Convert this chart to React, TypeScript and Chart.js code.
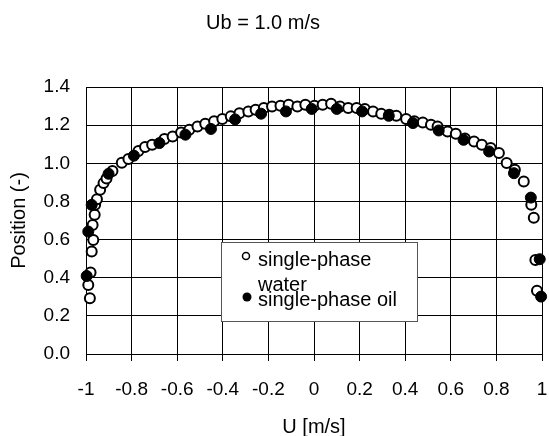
import React, { useEffect, useRef } from "react";
import { Chart, registerables } from "chart.js";

Chart.register(...registerables);

const TITLE = "Ub = 1.0 m/s";
const X_LABEL = "U [m/s]";
const Y_LABEL = "Position (-)";
const WATER_LABEL = ["single-phase", "water"];
const OIL_LABEL = "single-phase oil";

const xTicks = [-1, -0.8, -0.6, -0.4, -0.2, 0, 0.2, 0.4, 0.6, 0.8, 1];
const yTicks = [0, 0.2, 0.4, 0.6, 0.8, 1.0, 1.2, 1.4];

const waterU = [
  -0.983, -0.99, -0.98, -0.975, -0.968, -0.971, -0.962, -0.96, -0.952, -0.938,
  -0.923, -0.91, -0.884, -0.843, -0.814, -0.77, -0.741, -0.71, -0.656, -0.62,
  -0.583, -0.547, -0.511, -0.477, -0.438, -0.402, -0.365, -0.327, -0.288, -0.256,
  -0.22, -0.184, -0.147, -0.111, -0.073, -0.038, 0.002, 0.038, 0.075, 0.114,
  0.15, 0.187, 0.223, 0.259, 0.295, 0.33, 0.361, 0.404, 0.44, 0.477,
  0.513, 0.542, 0.586, 0.622, 0.662, 0.702, 0.736, 0.775, 0.811, 0.845,
  0.881, 0.92, 0.953, 0.964, 0.971, 0.978,
];
const waterPos = [
  0.292, 0.362, 0.427, 0.537, 0.598, 0.677, 0.73, 0.782, 0.812, 0.861,
  0.896, 0.92, 0.96, 1.003, 1.022, 1.064, 1.085, 1.097, 1.127, 1.141,
  1.162, 1.176, 1.193, 1.207, 1.22, 1.232, 1.246, 1.262, 1.272, 1.281,
  1.29, 1.298, 1.302, 1.307, 1.298, 1.307, 1.302, 1.307, 1.312, 1.298,
  1.29, 1.29, 1.285, 1.272, 1.26, 1.255, 1.249, 1.232, 1.22, 1.214,
  1.202, 1.193, 1.167, 1.155, 1.13, 1.114, 1.097, 1.08, 1.054, 1.001,
  0.966, 0.905, 0.782, 0.714, 0.493, 0.332,
];

const oilU = [
  -0.997, -0.99, -0.975, -0.901, -0.79, -0.678, -0.564, -0.452, -0.346, -0.232,
  -0.123, -0.01, 0.1, 0.211, 0.328, 0.434, 0.547, 0.656, 0.768, 0.877,
  0.951, 0.99, 0.996,
];
const oilPos = [
  0.409, 0.642, 0.782, 0.945, 1.04, 1.106, 1.15, 1.18, 1.23, 1.26,
  1.272, 1.285, 1.285, 1.272, 1.249, 1.211, 1.172, 1.123, 1.062, 0.948,
  0.82, 0.497, 0.301,
];

const FONT = '"Liberation Sans", Arial, sans-serif';

const fmtX = (v: number) => String(Number(v.toFixed(1)));
const fmtY = (v: number) => v.toFixed(1);

const decorPlugin = {
  id: "decor",
  afterDraw(chart: any) {
    const { ctx, chartArea: a } = chart;
    ctx.save();
    // title
    ctx.font = `20px ${FONT}`;
    ctx.fillStyle = "#000";
    ctx.textAlign = "center";
    ctx.textBaseline = "alphabetic";
    ctx.fillText(TITLE, 263, 29);

    // legend box
    const lx = a.left + 135;
    const ly = a.top + 155;
    const lw = 196;
    const lh = 79;
    ctx.fillStyle = "#fff";
    ctx.fillRect(lx, ly, lw, lh);
    ctx.strokeStyle = "#555";
    ctx.lineWidth = 1;
    ctx.strokeRect(lx + 0.5, ly + 0.5, lw, lh);

    // open marker
    ctx.beginPath();
    ctx.arc(lx + 25, ly + 14, 3.5, 0, Math.PI * 2);
    ctx.fillStyle = "#fff";
    ctx.fill();
    ctx.strokeStyle = "#000";
    ctx.lineWidth = 1.5;
    ctx.stroke();
    // filled marker
    ctx.beginPath();
    ctx.arc(lx + 26, ly + 55, 4.5, 0, Math.PI * 2);
    ctx.fillStyle = "#000";
    ctx.fill();

    ctx.fillStyle = "#000";
    ctx.textAlign = "left";
    ctx.textBaseline = "alphabetic";
    ctx.font = `20px ${FONT}`;
    ctx.fillText(WATER_LABEL[0], lx + 37, ly + 24);
    ctx.fillText(WATER_LABEL[1], lx + 37, ly + 49);
    ctx.fillText(OIL_LABEL, lx + 37, ly + 64);
    ctx.restore();
  },
};

export default function App() {
  const ref = useRef<HTMLCanvasElement | null>(null);

  useEffect(() => {
    if (!ref.current) return;
    const chart = new Chart(ref.current, {
      type: "scatter",
      data: {
        datasets: [
          {
            label: WATER_LABEL.join(" "),
            data: waterU.map((u, i) => ({ x: u, y: waterPos[i] })),
            pointStyle: "circle",
            pointRadius: 5,
            pointBackgroundColor: "#fff",
            pointBorderColor: "#000",
            pointBorderWidth: 2,
            showLine: false,
            order: 1,
            clip: false as any,
          },
          {
            label: OIL_LABEL,
            data: oilU.map((u, i) => ({ x: u, y: oilPos[i] })),
            pointStyle: "circle",
            pointRadius: 5.5,
            pointBackgroundColor: "#000",
            pointBorderColor: "#000",
            pointBorderWidth: 1,
            showLine: false,
            order: 0,
            clip: false as any,
          },
        ],
      },
      options: {
        animation: false,
        responsive: false,
        maintainAspectRatio: false,
        layout: { padding: { top: 87, right: 4, bottom: 0, left: 0 } },
        plugins: {
          legend: { display: false },
          title: { display: false },
          tooltip: { enabled: false },
        },
        scales: {
          x: {
            type: "linear",
            min: -1,
            max: 1,
            afterBuildTicks: (s: any) => {
              s.ticks = xTicks.map((v) => ({ value: v }));
            },
            afterFit: (s: any) => {
              s.height = 82;
              s.paddingLeft = 0;
              s.paddingRight = 0;
            },
            ticks: {
              font: { family: FONT, size: 19 },
              color: "#000",
              padding: 17,
              maxRotation: 0,
              autoSkip: false,
              callback: (v: any) => fmtX(Number(v)),
            },
            grid: {
              color: "#000",
              lineWidth: 1,
              drawTicks: true,
              tickLength: 7,
              tickColor: "#000",
            },
            border: { color: "#000", width: 1 },
            title: {
              display: true,
              text: X_LABEL,
              color: "#000",
              font: { family: FONT, size: 20, lineHeight: 0.9 },
              padding: { top: 0, bottom: 0 },
            },
          },
          y: {
            type: "linear",
            min: 0,
            max: 1.4,
            afterBuildTicks: (s: any) => {
              s.ticks = yTicks.map((v) => ({ value: v }));
            },
            afterFit: (s: any) => {
              s.width = 86;
              s.paddingTop = 0;
              s.paddingBottom = 0;
            },
            ticks: {
              font: { family: FONT, size: 19 },
              color: "#000",
              padding: 16,
              autoSkip: false,
              callback: (v: any) => fmtY(Number(v)),
            },
            grid: {
              color: "#000",
              lineWidth: 1,
              drawTicks: false,
            },
            border: { color: "#000", width: 1 },
            title: {
              display: true,
              text: Y_LABEL,
              color: "#000",
              font: { family: FONT, size: 20 },
              padding: { top: 7, bottom: 0 },
            },
          },
        },
      },
      plugins: [decorPlugin],
    });
    return () => chart.destroy();
  }, []);

  return (
    <div
      style={{
        position: "fixed",
        left: 0,
        top: 0,
        width: 549,
        height: 436,
        background: "#fff",
      }}
    >
      <canvas ref={ref} width={549} height={436} style={{ width: 549, height: 436 }} />
    </div>
  );
}
